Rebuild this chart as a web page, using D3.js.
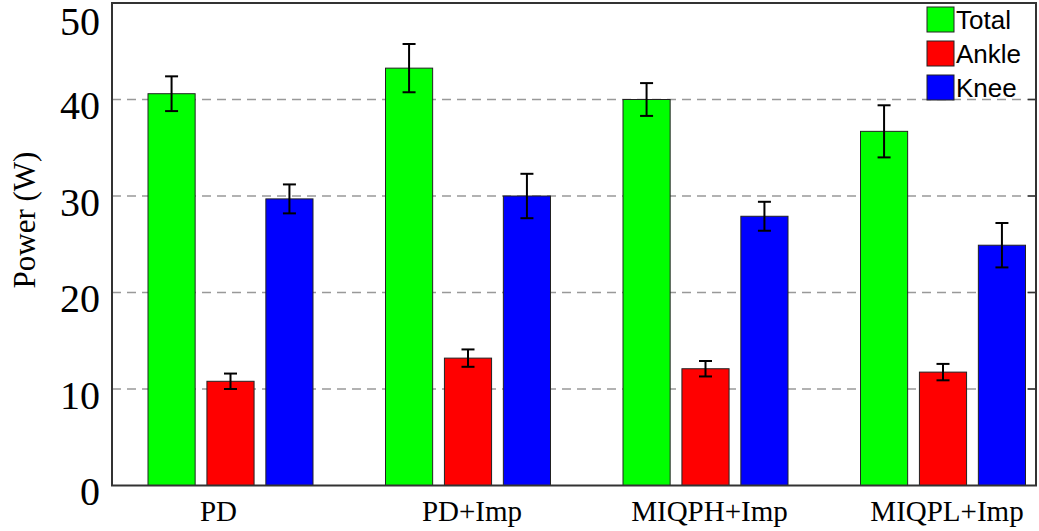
<!DOCTYPE html>
<html>
<head>
<meta charset="utf-8">
<script src="https://cdn.jsdelivr.net/npm/d3@7"></script>
<style>
  body { margin: 0; background: #fff; }
  svg { display: block; }
</style>
</head>
<body>
<svg id="chart" width="1039" height="531"></svg>
<script>
// chart data
const controllers = ["PD", "PD+Imp", "MIQPH+Imp", "MIQPL+Imp"];
const seriesNames = ["Total", "Ankle", "Knee"];
const totalMean = [40.6, 43.25, 40.0, 36.7];
const totalErr = [1.8, 2.5, 1.7, 2.7];
const ankleMean = [10.8, 13.2, 12.1, 11.75];
const ankleErr = [0.8, 0.9, 0.8, 0.85];
const kneeMean = [29.7, 30.0, 27.9, 24.9];
const kneeErr = [1.5, 2.3, 1.5, 2.3];
const yTicks = [0, 10, 20, 30, 40, 50];

const colors = {Total: "#00ff00", Ankle: "#ff0000", Knee: "#0000ff"};
const means = {Total: totalMean, Ankle: ankleMean, Knee: kneeMean};
const errs = {Total: totalErr, Ankle: ankleErr, Knee: kneeErr};

const serif = "'Liberation Serif', 'Times New Roman', serif";

const svg = d3.select("#chart");
const plot = {left: 112, right: 1036, top: 3, bottom: 485.5};

const y = d3.scaleLinear().domain([0, 50]).range([plot.bottom, plot.top]);

// group centres (pgfplots leaves more room on the left than on the right)
const x = d3.scalePoint().domain(controllers).range([230.5, 943]);
const inner = d3.scaleBand().domain(seriesNames).range([-82.5, 82.5]).paddingInner(0.2);

// dashed grid
svg.append("g")
  .selectAll("line")
  .data(yTicks.filter(t => t > 0 && t < 50))
  .join("line")
  .attr("x1", plot.left).attr("x2", plot.right)
  .attr("y1", d => y(d)).attr("y2", d => y(d))
  .attr("stroke", "#999")
  .attr("stroke-width", 1.5)
  .attr("stroke-dasharray", "9,6");

// bars
const rows = [];
controllers.forEach((c, i) => {
  seriesNames.forEach(s => {
    rows.push({c: c, s: s, v: means[s][i], e: errs[s][i]});
  });
});

svg.append("g")
  .selectAll("rect")
  .data(rows)
  .join("rect")
  .attr("x", d => x(d.c) + inner(d.s))
  .attr("width", inner.bandwidth())
  .attr("y", d => y(d.v))
  .attr("height", d => y(0) - y(d.v))
  .attr("fill", d => colors[d.s])
  .attr("stroke", "#222")
  .attr("stroke-width", 1);

// error bars
const eb = svg.append("g").attr("stroke", "#000").attr("stroke-width", 2);
rows.forEach(d => {
  const cx = x(d.c) + inner(d.s) + inner.bandwidth() / 2;
  eb.append("line").attr("x1", cx).attr("x2", cx).attr("y1", y(d.v + d.e)).attr("y2", y(d.v - d.e));
  eb.append("line").attr("x1", cx - 6.5).attr("x2", cx + 6.5).attr("y1", y(d.v + d.e)).attr("y2", y(d.v + d.e));
  eb.append("line").attr("x1", cx - 6.5).attr("x2", cx + 6.5).attr("y1", y(d.v - d.e)).attr("y2", y(d.v - d.e));
});

// frame
svg.append("rect")
  .attr("x", plot.left).attr("y", plot.top)
  .attr("width", plot.right - plot.left).attr("height", plot.bottom - plot.top)
  .attr("fill", "none")
  .attr("stroke", "#333")
  .attr("stroke-width", 2);

// y tick labels (the top one is pushed down so it stays on the page)
svg.append("g")
  .selectAll("text")
  .data(yTicks)
  .join("text")
  .attr("x", 100)
  .attr("y", d => Math.max(y(d) + 19.5, 35))
  .attr("text-anchor", "end")
  .attr("font-family", serif)
  .attr("font-size", 40)
  .attr("fill", "#000")
  .text(d => d);

// small inside ticks on right edge
svg.append("g")
  .selectAll("line")
  .data(yTicks.filter(t => t > 0 && t < 50))
  .join("line")
  .attr("x1", plot.right - 8).attr("x2", plot.right)
  .attr("y1", d => y(d)).attr("y2", d => y(d))
  .attr("stroke", "#333").attr("stroke-width", 1.5);

// x labels
svg.append("g")
  .selectAll("text")
  .data(controllers)
  .join("text")
  .attr("x", d => x(d) + (d === "PD" ? -12 : 4))
  .attr("y", 521)
  .attr("text-anchor", "middle")
  .attr("font-family", serif)
  .attr("font-size", 29)
  .attr("fill", "#000")
  .text(d => d);

// y label
svg.append("text")
  .attr("transform", "translate(35,220) rotate(-90)")
  .attr("text-anchor", "middle")
  .attr("font-family", serif)
  .attr("font-size", 31)
  .attr("fill", "#000")
  .text("Power (W)");

// legend
const leg = svg.append("g").attr("transform", "translate(927,7)");
seriesNames.forEach((s, i) => {
  const g = leg.append("g").attr("transform", `translate(0,${i * 34})`);
  g.append("rect")
    .attr("width", 27).attr("height", 25)
    .attr("fill", colors[s]).attr("stroke", "#222").attr("stroke-width", 1);
  g.append("text")
    .attr("x", 29).attr("y", 21.5)
    .attr("font-family", "'Liberation Sans', Arial, sans-serif")
    .attr("font-size", 26)
    .attr("fill", "#000")
    .text(s);
});
</script>
</body>
</html>
